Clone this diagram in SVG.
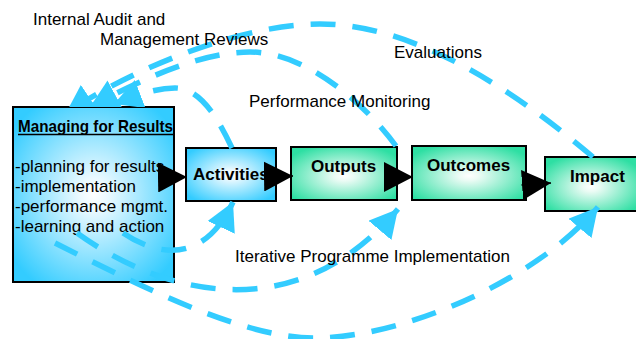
<svg xmlns="http://www.w3.org/2000/svg" width="636" height="339" viewBox="0 0 636 339">
  <style>
    .lbl { font-family: "Liberation Sans", Arial, sans-serif; font-size: 17px; fill: #000; }
    .bold { font-family: "Liberation Sans", Arial, sans-serif; font-size: 17px; font-weight: bold; fill: #000; }
    .box { stroke: #000; stroke-width: 2; }
    .loop { fill: none; stroke: #33CCFF; stroke-width: 5.5; stroke-dasharray: 25 17; }
    .flow { stroke: #000; stroke-width: 1.5; fill: none; }
  </style>
  <defs>
    <radialGradient id="gBlue" cx="0.5" cy="0.5" r="0.62">
      <stop offset="0" stop-color="#FFFFFF"/>
      <stop offset="0.15" stop-color="#EAF9FF"/>
      <stop offset="1" stop-color="#33CCFF"/>
    </radialGradient>
    <radialGradient id="gGreen" cx="0.5" cy="0.55" r="0.62">
      <stop offset="0" stop-color="#FFFFFF"/>
      <stop offset="0.15" stop-color="#EAFBF4"/>
      <stop offset="1" stop-color="#2EDFA3"/>
    </radialGradient>
    <marker id="ahBlue" markerUnits="userSpaceOnUse" viewBox="0 0 28 30" markerWidth="28" markerHeight="30" refX="28" refY="15" orient="auto">
      <path d="M0,0 L28,15 L0,30 Z" fill="#33CCFF"/>
    </marker>
    <marker id="ahBlack" markerUnits="userSpaceOnUse" viewBox="0 0 29 30" markerWidth="29" markerHeight="30" refX="29" refY="15" orient="auto">
      <path d="M0,0 L29,15 L0,30 Z" fill="#000"/>
    </marker>
    <clipPath id="outsideMfr">
      <path clip-rule="evenodd" d="M0,0 H636 V339 H0 Z M13,107 H174 V282 H13 Z"/>
    </clipPath>
  </defs>

  <g id="mfr">
    <rect class="box" x="13" y="107" width="161" height="175" fill="url(#gBlue)" stroke-width="2.5"/>
    <text class="bold" x="18" y="132" font-size="18" textLength="155" lengthAdjust="spacingAndGlyphs">Managing for Results</text>
    <line x1="18" y1="134.5" x2="173" y2="134.5" stroke="#000" stroke-width="1.5"/>
    <text class="lbl" x="15" y="172">-planning for results</text>
    <text class="lbl" x="15" y="192">-implementation</text>
    <text class="lbl" x="15" y="212">-performance mgmt.</text>
    <text class="lbl" x="15" y="232">-learning and action</text>
  </g>
  <g id="activities">
    <rect class="box" x="186" y="148" width="90" height="53" fill="url(#gBlue)"/>
    <text class="bold" x="193" y="180">Activities</text>
  </g>
  <g id="outputs">
    <rect class="box" x="291" y="147" width="106" height="53" fill="url(#gGreen)"/>
    <text class="bold" x="311" y="172">Outputs</text>
  </g>
  <g id="outcomes">
    <rect class="box" x="412" y="146" width="114" height="54" fill="url(#gGreen)"/>
    <text class="bold" x="427" y="171">Outcomes</text>
  </g>
  <g id="impact">
    <rect class="box" x="545" y="157" width="92" height="54" fill="url(#gGreen)"/>
    <text class="bold" x="570" y="182">Impact</text>
  </g>

  <g id="connectors">
    <g clip-path="url(#outsideMfr)">
      <path class="loop" marker-end="url(#ahBlue)" d="M593,157 C493,72 400,24 320,24 C240,24 130,70 66,113"/>
      <path class="loop" marker-end="url(#ahBlue)" d="M396,146 C370,110 310,52 250,52 C200,52 140,80 90,107"/>
      <path class="loop" marker-end="url(#ahBlue)" d="M232,148 C218,118 200,88 175,88 C155,88 135,96 114,104"/>
    </g>
    <line class="flow" x1="158" y1="177.5" x2="187" y2="177" marker-end="url(#ahBlack)"/>
    <line class="flow" x1="264" y1="176.5" x2="293" y2="176" marker-end="url(#ahBlack)"/>
    <line class="flow" x1="384" y1="177" x2="413" y2="177" marker-end="url(#ahBlack)"/>
    <line class="flow" x1="521.5" y1="185" x2="551" y2="183" marker-end="url(#ahBlack)"/>
    <path class="loop" marker-end="url(#ahBlue)" d="M123,233 C160,258 205,262 233,202"/>
    <path class="loop" marker-end="url(#ahBlue)" d="M77,233 C170,300 300,325 398,209"/>
    <path class="loop" marker-end="url(#ahBlue)" d="M55,243 C135,283 240,338 315,338 C400,338 535,282 598,207"/>
  </g>

  <g id="labels">
    <text class="lbl" x="33" y="25">Internal Audit and</text>
    <text class="lbl" x="100" y="45">Management Reviews</text>
    <text class="lbl" x="394" y="58">Evaluations</text>
    <text class="lbl" x="249" y="107">Performance Monitoring</text>
    <text class="lbl" x="235" y="262">Iterative Programme Implementation</text>
  </g>
</svg>
